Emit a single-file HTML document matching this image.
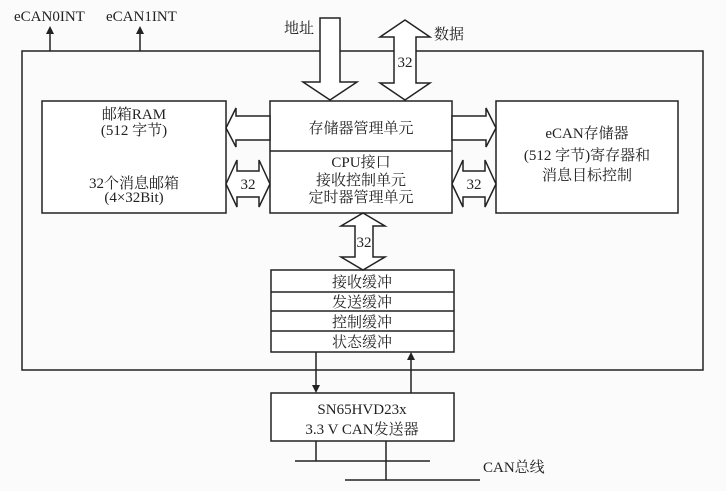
<!DOCTYPE html>
<html><head><meta charset="utf-8"><style>
html,body{margin:0;padding:0;background:#fff;}
svg{display:block}
text{font-family:"Liberation Serif","Noto Serif CJK SC",serif;fill:#222;}
</style></head><body>
<svg width="726" height="491" viewBox="0 0 726 491" xmlns="http://www.w3.org/2000/svg">
<rect width="726" height="491" fill="#fbfbfb"/>
<g stroke="#222" stroke-width="1.5" fill="none">
<rect x="22" y="51" width="681" height="319"/>
<rect x="42" y="101" width="184" height="112" fill="#fff"/>
<rect x="270" y="101" width="182" height="112" fill="#fff"/>
<line x1="270" y1="151" x2="452" y2="151"/>
<rect x="496" y="101" width="182" height="112" fill="#fff"/>
<rect x="271" y="270" width="183" height="82" fill="#fff"/>
<line x1="271" y1="292" x2="454" y2="292"/>
<line x1="271" y1="311" x2="454" y2="311"/>
<line x1="271" y1="331" x2="454" y2="331"/>
<rect x="271" y="393" width="183" height="48" fill="#fff"/>
<line x1="50" y1="51" x2="50" y2="32"/>
<line x1="140" y1="51" x2="140" y2="32"/>
<polygon points="320,18 340,18 340,82 357,82 330,100 303,82 320,82" fill="#fff"/>
<polygon points="405,20 430,37 416,37 416,83 430,83 405,100 380,83 394,83 394,37 380,37" fill="#fff"/>
<polygon points="270,116 236,116 236,108 226,128 236,147 236,140 270,140" fill="#fff"/>
<polygon points="452,116 486,116 486,108 496,128 486,147 486,140 452,140" fill="#fff"/>
<polygon points="226,184 237,160 237,171 259,171 259,160 270,184 259,207 259,197 237,197 237,207" fill="#fff"/>
<polygon points="452,184 463,160 463,171 485,171 485,160 496,184 485,207 485,197 463,197 463,207" fill="#fff"/>
<polygon points="363,213 385,226 373,226 373,257 385,257 363,270 341,257 355,257 355,226 341,226" fill="#fff"/>
<line x1="316" y1="352" x2="316" y2="386"/>
<line x1="411" y1="393" x2="411" y2="358"/>
<line x1="316" y1="441" x2="316" y2="461"/>
<line x1="386" y1="441" x2="386" y2="480"/>
<line x1="295" y1="461" x2="430" y2="461"/>
<line x1="345" y1="480" x2="480" y2="480"/>
</g>
<g fill="#222">
<polygon points="46,34 54,34 50,26"/>
<polygon points="136,34 144,34 140,26"/>
<polygon points="312,385 320,385 316,393"/>
<polygon points="407,360 415,360 411,352"/>
</g>
<g font-size="15">
<text x="14" y="21">eCAN0INT</text>
<text x="106" y="21">eCAN1INT</text>
<text x="284" y="33">地址</text>
<text x="434" y="39">数据</text>
<text x="405" y="67" text-anchor="middle">32</text>
<text x="134" y="119" text-anchor="middle">邮箱RAM</text>
<text x="134" y="135" text-anchor="middle">(512 字节)</text>
<text x="134" y="188" text-anchor="middle">32个消息邮箱</text>
<text x="134" y="202" text-anchor="middle">(4×32Bit)</text>
<text x="361" y="133" text-anchor="middle">存储器管理单元</text>
<text x="361" y="167" text-anchor="middle">CPU接口</text>
<text x="361" y="185" text-anchor="middle">接收控制单元</text>
<text x="361" y="202" text-anchor="middle">定时器管理单元</text>
<text x="248" y="189" text-anchor="middle">32</text>
<text x="474" y="189" text-anchor="middle">32</text>
<text x="364" y="247" text-anchor="middle">32</text>
<text x="587" y="138" text-anchor="middle">eCAN存储器</text>
<text x="587" y="160" text-anchor="middle">(512 字节)寄存器和</text>
<text x="587" y="180" text-anchor="middle">消息目标控制</text>
<text x="362" y="287" text-anchor="middle">接收缓冲</text>
<text x="362" y="307" text-anchor="middle">发送缓冲</text>
<text x="362" y="327" text-anchor="middle">控制缓冲</text>
<text x="362" y="347" text-anchor="middle">状态缓冲</text>
<text x="362" y="414" text-anchor="middle">SN65HVD23x</text>
<text x="362" y="434" text-anchor="middle">3.3 V CAN发送器</text>
<text x="483" y="472">CAN总线</text>
</g>
</svg>
</body></html>
